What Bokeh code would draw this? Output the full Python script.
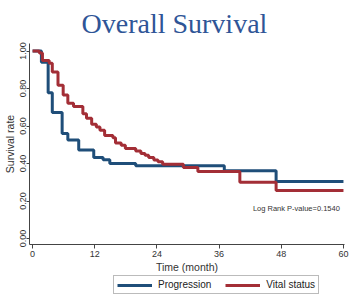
from bokeh.plotting import figure
from bokeh.models import Range1d, FixedTicker, Legend, LegendItem, Label, PrintfTickFormatter
from bokeh.layouts import column
from bokeh.embed import file_html
from bokeh.resources import INLINE

title_text = "Overall Survival"
x_label = "Time (month)"
y_label = "Survival rate"
x_ticks = [0, 12, 24, 36, 48, 60]
y_ticks = [0.0, 0.2, 0.4, 0.6, 0.8, 1.0]
series_names = ["Progression", "Vital status"]

prog_time = [0, 1.7, 3.0, 3.8, 5.7, 6.8, 8.9, 11.8, 13.6, 14.9, 19.9, 37.0, 47.0, 60]
prog_surv = [1.0, 0.94, 0.777, 0.672, 0.56, 0.525, 0.472, 0.432, 0.42, 0.40, 0.388, 0.362, 0.304, 0.304]

vital_time = [0, 1.3, 1.9, 3.2, 3.8, 4.9, 5.9, 6.8, 7.9, 9.7, 10.4, 11.4, 12.3, 13.0, 13.9,
              15.5, 16.0, 17.1, 17.9, 19.9, 20.9, 21.7, 22.4, 23.4, 24.2, 25.1, 29.1, 31.9,
              40.0, 47.0, 60]
vital_surv = [1.0, 0.99, 0.949, 0.935, 0.888, 0.817, 0.765, 0.721, 0.704, 0.665, 0.642, 0.61,
              0.595, 0.577, 0.549, 0.537, 0.51, 0.498, 0.48, 0.467, 0.454, 0.444, 0.432, 0.419,
              0.409, 0.396, 0.379, 0.358, 0.30, 0.256, 0.256]

p_value_text = "Log Rank P-value=0.1540"

BLUE = "#1f4e79"
RED = "#a32e36"
AXIS = "#444444"
SANS = "Liberation Sans"


def step_points(t, s):
    xs, ys = [], []
    for i in range(len(t)):
        if i > 0:
            xs.append(t[i])
            ys.append(s[i - 1])
        xs.append(t[i])
        ys.append(s[i])
    return xs, ys


p = figure(width=350, height=275, output_backend="svg", toolbar_location=None,
           x_range=Range1d(-0.6, 60.2), y_range=Range1d(-0.032, 1.04),
           min_border_left=2, min_border_right=6, min_border_top=41, min_border_bottom=30)

p.title.text = title_text
p.title.text_font = "Liberation Serif"
p.title.text_font_size = "28px"
p.title.text_font_style = "normal"
p.title.text_color = "#2f5597"
p.title.align = "left"
p.title.offset = 52

p.outline_line_color = None
p.xgrid.grid_line_color = None
p.ygrid.grid_line_color = None

bx, by = step_points(prog_time, prog_surv)
rx, ry = step_points(vital_time, vital_surv)
p.line(bx, by, line_width=3, line_color=BLUE)
p.line(rx, ry, line_width=3, line_color=RED)

for ax in (p.xaxis[0], p.yaxis[0]):
    ax.axis_line_color = AXIS
    ax.major_tick_line_color = AXIS
    ax.minor_tick_line_color = None
    ax.major_tick_in = 0
    ax.major_tick_out = 4
    ax.major_label_text_font = SANS
    ax.major_label_text_font_size = "9px"
    ax.major_label_text_color = "#333333"
    ax.axis_label_text_font = SANS
    ax.axis_label_text_font_size = "10.5px"
    ax.axis_label_text_font_style = "normal"
    ax.axis_label_text_color = "#333333"

p.xaxis[0].ticker = FixedTicker(ticks=x_ticks)
p.xaxis[0].axis_label = x_label
p.xaxis[0].major_label_standoff = 2
p.xaxis[0].axis_label_standoff = 1

p.yaxis[0].ticker = FixedTicker(ticks=y_ticks)
p.yaxis[0].formatter = PrintfTickFormatter(format="%.2f")
p.yaxis[0].major_label_orientation = "vertical"
p.yaxis[0].axis_label = y_label
p.yaxis[0].major_label_standoff = 1
p.yaxis[0].axis_label_standoff = 1
p.yaxis[0].major_tick_out = 3

p.add_layout(Label(x=59.3, y=0.158, text=p_value_text, text_align="right",
                   text_baseline="middle", text_font=SANS, text_font_size="7.5px",
                   text_color="#333333"))

# legend strip below the chart (its renderers lie outside this strip's ranges)
p2 = figure(width=350, height=19, output_backend="svg", toolbar_location=None,
            x_range=Range1d(1000, 1001), y_range=Range1d(1000, 1001),
            x_axis_location=None, y_axis_location=None,
            min_border_left=0, min_border_right=0, min_border_top=0, min_border_bottom=0)
p2.outline_line_color = None
p2.grid.grid_line_color = None
l1 = p2.line(bx, by, line_width=3, line_color=BLUE)
l2 = p2.line(rx, ry, line_width=3, line_color=RED)

legend = Legend(items=[LegendItem(label=series_names[0], renderers=[l1]),
                       LegendItem(label=series_names[1], renderers=[l2])],
                orientation="horizontal", location=(84, 0),
                glyph_width=35, glyph_height=10, label_height=10,
                label_standoff=6, spacing=14, padding=3, margin=0,
                label_text_font=SANS, label_text_font_size="10px",
                label_text_color="#222222",
                border_line_color="#777777", border_line_width=1,
                background_fill_color="white", background_fill_alpha=1)
p2.add_layout(legend)

open("out.html", "w").write(file_html(column(p, p2), INLINE))
